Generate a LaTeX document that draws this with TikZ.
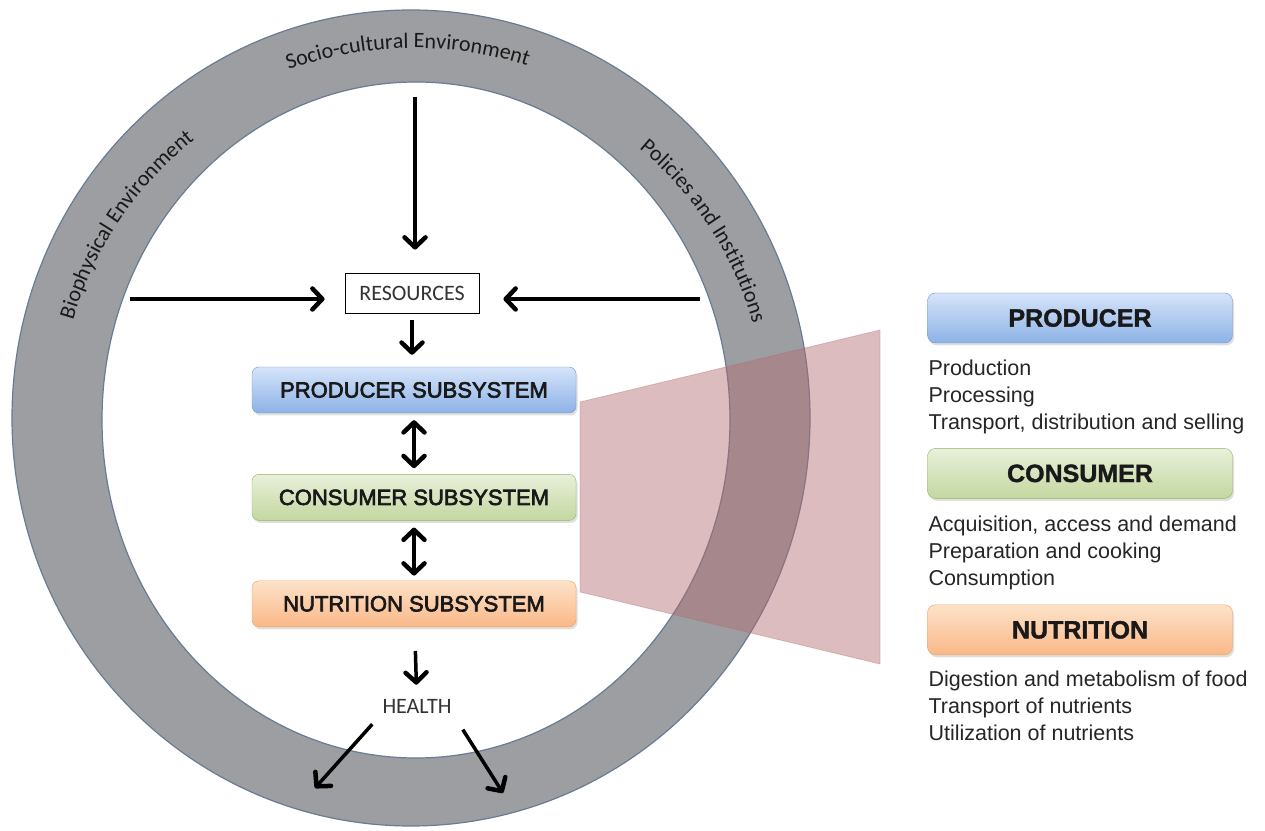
\documentclass[tikz,border=0pt]{standalone}
\usepackage{fontspec}
\setmainfont{Liberation Sans}
\newfontfamily\calfont{Carlito}
\newfontfamily\subfont{Liberation Sans}[FakeBold=3]
\newfontfamily\headfont{Liberation Sans Bold}[FakeBold=1.5]
\usetikzlibrary{positioning,arrows.meta,shadows,decorations.text}

\definecolor{ringgray}{RGB}{156,158,162}
\definecolor{ringedge}{RGB}{105,124,146}
\definecolor{zoompink}{RGB}{179,107,112}
\definecolor{prodtop}{RGB}{214,228,250}
\definecolor{prodbot}{RGB}{140,178,230}
\definecolor{prodedge}{RGB}{120,150,200}
\definecolor{constop}{RGB}{232,240,218}
\definecolor{consbot}{RGB}{196,215,160}
\definecolor{consedge}{RGB}{150,180,100}
\definecolor{nutrtop}{RGB}{253,226,200}
\definecolor{nutrbot}{RGB}{250,184,136}
\definecolor{nutredge}{RGB}{240,160,100}

\tikzset{sub/.style={rectangle, rounded corners=7pt, inner sep=0pt,
minimum width=324pt, minimum height=46pt, text=black!90,
font=\subfont\fontsize{22}{22}\selectfont,
drop shadow={shadow xshift=1.5pt, shadow yshift=-2.5pt, opacity=0.25}},
prodsub/.style={sub, draw=prodedge, top color=prodtop, bottom color=prodbot},
conssub/.style={sub, draw=consedge, top color=constop, bottom color=consbot},
nutrsub/.style={sub, draw=nutredge, top color=nutrtop, bottom color=nutrbot},
head/.style={sub, minimum width=305pt, minimum height=50pt, rounded corners=8pt,
font=\headfont\fontsize{25}{25}\selectfont},
list/.style={align=left, inner sep=0pt, text=black!85,
font=\fontsize{21.5}{27}\selectfont},
calib/.style={font=\calfont\fontsize{22}{22}\selectfont, text=black!80},
ringtext/.style={decorate, decoration={text along path, text align=center,
text={|\calfont\fontsize{22}{22}\selectfont\color{black!90}|#1}}},
arr/.style={->, line width=3.5pt},
darr/.style={<->, line width=3.5pt},
>={Straight Barb[length=10pt,width=21pt,line width=4.5pt,round]}}

\begin{document}
\begin{tikzpicture}[x=1pt,y=1pt]
  \useasboundingbox[fill=white] (0,0) rectangle (1265,830);
  \coordinate (oc) at (411,412);
  \coordinate (ic) at (416,410);
  \coordinate (tc) at (414,411);
  % ring of environments
  \fill[ringgray, even odd rule] (oc) ellipse [x radius=399, y radius=408]
    (ic) ellipse [x radius=314, y radius=338];
  \draw[ringedge, line width=1.2pt] (oc) ellipse [x radius=399, y radius=408];
  \draw[ringedge, line width=1.2pt] (ic) ellipse [x radius=314, y radius=338];
  \path[ringtext={Socio-cultural Environment}]
    ([shift={(116:371)}]tc) arc [start angle=116, end angle=66, radius=371];
  \path[ringtext={Biophysical Environment}]
    ([shift={(171:355)}]tc) arc [start angle=171, end angle=121, radius=355];
  \path[ringtext={Policies and Institutions}]
    ([shift={(58:352)}]tc) arc [start angle=58, end angle=8, radius=352];
  % zoom wedge
  \fill[zoompink, fill opacity=0.45, draw=zoompink, draw opacity=0.35, line width=0.8pt]
    (580,428) -- (880,500) -- (880,166) -- (580,238) -- cycle;

  \node (res) at (412,537) [calib, draw=black, line width=0.8pt,
    minimum width=134pt, minimum height=40pt, inner sep=0pt] {RESOURCES};
  \node (prod) at (414,440) [prodsub] {PRODUCER SUBSYSTEM};
  \node (cons) [conssub, below=61pt of prod] {CONSUMER SUBSYSTEM};
  \node (nutr) [nutrsub, below=60pt of cons] {NUTRITION SUBSYSTEM};
  \node (health) at (417,124) [calib, inner sep=2pt] {HEALTH};

  \coordinate (soc) at (415,733);
  \coordinate (bio) at (130,531);
  \coordinate (pol) at (700,531);
  \coordinate (out1) at (315,42);
  \coordinate (out2) at (503,37);

  \draw[arr, shorten >=23pt] (soc) -- (soc |- res.north);
  \draw[arr, shorten >=20pt] (bio) -- (bio -| res.west);
  \draw[arr, shorten >=24pt] (pol) -- (pol -| res.east);
  \draw[arr, shorten <=7pt, shorten >=12pt] (res.south) -- (res.south |- prod.north);
  \draw[darr, shorten <=7pt, shorten >=6pt] (prod) -- (cons);
  \draw[darr, shorten <=7pt, shorten >=5pt] (cons) -- (nutr);
  \draw[arr, shorten <=24pt, shorten >=12pt] (nutr) -- (health);
  \draw[arr, shorten <=12pt] (health.south west) -- (out1);
  \draw[arr, shorten <=17pt] (health.south east) -- (out2);

  % detail boxes on the right
  \node (prodhead) at (1080,512) [head, draw=prodedge, top color=prodtop, bottom color=prodbot] {PRODUCER};
  \node (conshead) [head, draw=consedge, top color=constop, bottom color=consbot,
    below=105pt of prodhead] {CONSUMER};
  \node (nutrhead) [head, draw=nutredge, top color=nutrtop, bottom color=nutrbot,
    below=106pt of conshead] {NUTRITION};
  \node (prodlist) [list, below right=17pt and 1pt of prodhead.south west]
    {Production\\Processing\\Transport, distribution and selling};
  \node (conslist) [list, below right=17pt and 1pt of conshead.south west]
    {Acquisition, access and demand\\Preparation and cooking\\Consumption};
  \node (nutrlist) [list, below right=16pt and 1pt of nutrhead.south west]
    {Digestion and metabolism of food\\Transport of nutrients\\Utilization of nutrients};
\end{tikzpicture}
\end{document}
